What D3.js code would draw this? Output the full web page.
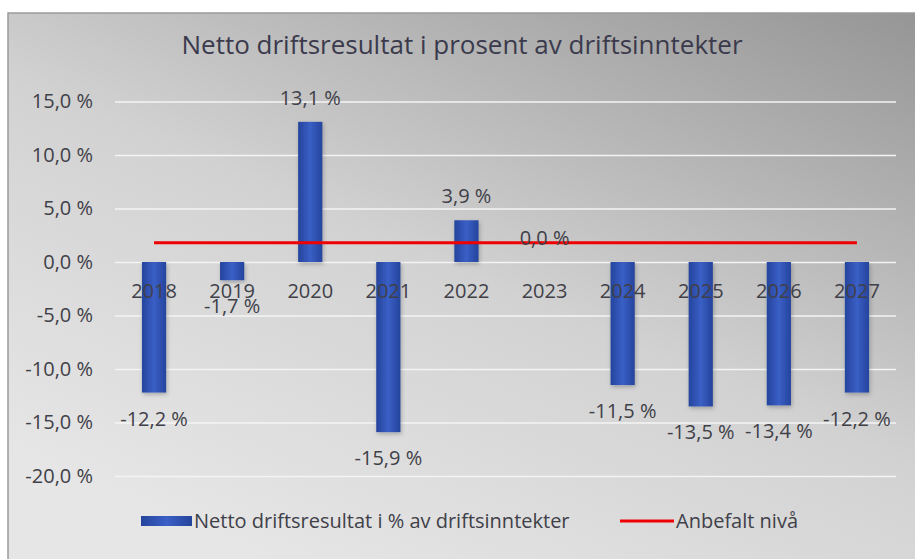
<!DOCTYPE html>
<html>
<head>
<meta charset="utf-8">
<script src="https://cdn.jsdelivr.net/npm/d3@7"></script>
<style>
  body { margin: 0; background: #fff; }
  svg text { font-family: "Open Sans", "Noto Sans", sans-serif; fill: #404048; }
</style>
</head>
<body>
<svg id="chart" width="915" height="559"></svg>
<script>
// data
const years = ["2018", "2019", "2020", "2021", "2022", "2023", "2024", "2025", "2026", "2027"];
const resultValues = [-12.2, -1.7, 13.1, -15.9, 3.9, 0.0, -11.5, -13.5, -13.4, -12.2];
const recommendedLevel = [1.8, 1.8, 1.8, 1.8, 1.8, 1.8, 1.8, 1.8, 1.8, 1.8];
const yTickValues = [15, 10, 5, 0, -5, -10, -15, -20];
const titleText = "Netto driftsresultat i prosent av driftsinntekter";
const seriesNames = ["Netto driftsresultat i % av driftsinntekter", "Anbefalt nivå"];

const rows = years.map((y, i) => ({ year: y, value: resultValues[i], rec: recommendedLevel[i] }));

const svg = d3.select("#chart");
const defs = svg.append("defs");

// norsk format: komma som desimaltegn, vanlig bindestrek
const nb = d3.formatLocale({ decimal: ",", thousands: " ", grouping: [3], currency: ["", " kr"], minus: "-" });
const pct = v => nb.format(".1f")(v) + " %";

// bakgrunnsgradient
const bg = defs.append("linearGradient").attr("id", "bg")
  .attr("x1", "0.3").attr("y1", "1").attr("x2", "1").attr("y2", "0");
bg.append("stop").attr("offset", "0").attr("stop-color", "#e6e6e6");
bg.append("stop").attr("offset", "0.45").attr("stop-color", "#d2d2d2");
bg.append("stop").attr("offset", "1").attr("stop-color", "#959595");

const barGrad = defs.append("linearGradient").attr("id", "barGrad")
  .attr("x1", "0").attr("y1", "0").attr("x2", "1").attr("y2", "0");
barGrad.append("stop").attr("offset", "0").attr("stop-color", "#25449c");
barGrad.append("stop").attr("offset", "0.5").attr("stop-color", "#3a5fc6");
barGrad.append("stop").attr("offset", "1").attr("stop-color", "#25449c");

const shadow = defs.append("filter").attr("id", "shadow")
  .attr("x", "-30%").attr("y", "-10%").attr("width", "160%").attr("height", "130%");
shadow.append("feDropShadow").attr("dx", 1).attr("dy", 2).attr("stdDeviation", 2)
  .attr("flood-color", "#000").attr("flood-opacity", 0.25);

svg.append("rect")
  .attr("x", 8).attr("y", 13).attr("width", 915).attr("height", 560)
  .attr("fill", "url(#bg)")
  .attr("stroke", "#9a9a9a").attr("stroke-width", 1.5);

const plot = { left: 115, right: 896, top: 101.5, bottom: 476 };

const x = d3.scaleBand()
  .domain(years)
  .range([plot.left, plot.right])
  .paddingInner(0.69)
  .paddingOuter(0.345);

const y = d3.scaleLinear()
  .domain([-20, 15])
  .range([plot.bottom, plot.top]);

// tittel
svg.append("text")
  .attr("x", 462).attr("y", 54)
  .attr("text-anchor", "middle")
  .style("font-size", "26px")
  .style("fill", "#3a3a4c")
  .text(titleText);

// rutenett
svg.append("g")
  .attr("transform", `translate(${plot.left},0)`)
  .call(d3.axisLeft(y).tickValues(yTickValues).tickSize(-(plot.right - plot.left)).tickFormat(""))
  .call(g => g.select(".domain").remove())
  .call(g => g.selectAll("line").attr("stroke", "#f4f4f4").attr("stroke-width", 1.5));

// y-akse etiketter
svg.append("g")
  .attr("transform", "translate(93,0)")
  .call(d3.axisLeft(y).tickValues(yTickValues).tickSize(0).tickPadding(0).tickFormat(pct))
  .call(g => g.select(".domain").remove())
  .call(g => g.selectAll("text").style("font-size", "20px").style("fill", "#404048"));

// søyler
svg.append("g")
  .selectAll("rect")
  .data(rows)
  .join("rect")
  .attr("x", d => x(d.year))
  .attr("width", x.bandwidth())
  .attr("y", d => y(Math.max(0, d.value)))
  .attr("height", d => Math.abs(y(d.value) - y(0)))
  .attr("fill", "url(#barGrad)")
  .attr("filter", "url(#shadow)");

// anbefalt nivå
const line = d3.line()
  .x(d => x(d.year) + x.bandwidth() / 2)
  .y(d => y(d.rec));

svg.append("path")
  .datum(rows)
  .attr("d", line)
  .attr("fill", "none")
  .attr("stroke", "#f00000")
  .attr("stroke-width", 3);

// x-akse etiketter
svg.append("g")
  .attr("transform", `translate(0,${y(0)})`)
  .call(d3.axisBottom(x).tickSize(0).tickPadding(22))
  .call(g => g.select(".domain").remove())
  .call(g => g.selectAll("text").style("font-size", "20px").style("fill", "#404048"));

// dataetiketter
svg.append("g")
  .selectAll("text")
  .data(rows)
  .join("text")
  .attr("x", d => x(d.year) + x.bandwidth() / 2)
  .attr("y", d => d.value < 0 ? y(d.value) + 26 : y(d.value) - 24)
  .attr("dy", "0.35em")
  .attr("text-anchor", "middle")
  .style("font-size", "20px")
  .text(d => pct(d.value));

// legende
const legend = svg.append("g").attr("transform", "translate(141,521)");
legend.append("rect")
  .attr("x", 0).attr("y", -5).attr("width", 51).attr("height", 10)
  .attr("fill", "url(#barGrad)");
legend.append("text")
  .attr("x", 53).attr("dy", "0.35em")
  .style("font-size", "20px")
  .text(seriesNames[0]);
legend.append("line")
  .attr("x1", 479).attr("x2", 533)
  .attr("stroke", "#f00000").attr("stroke-width", 3);
legend.append("text")
  .attr("x", 535).attr("dy", "0.35em")
  .style("font-size", "20px")
  .text(seriesNames[1]);
</script>
</body>
</html>
